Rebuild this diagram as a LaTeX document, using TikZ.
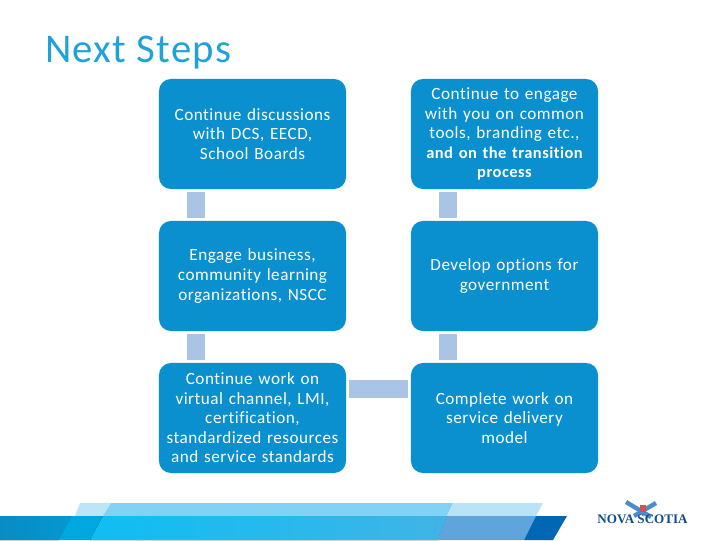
\documentclass[tikz,border=0pt]{standalone}
\usepackage{fontspec}
\setmainfont[LetterSpace=3,Ligatures=NoCommon]{Carlito}
\newfontfamily\logofont{Liberation Serif}
\usetikzlibrary{positioning}
\definecolor{boxblue}{HTML}{0A8FCF}
\definecolor{linkblue}{HTML}{A9C4E4}
\definecolor{titleblue}{HTML}{1FA2DC}
\definecolor{logoblue}{HTML}{0F4C8A}
\definecolor{flagblue}{HTML}{4A8CCC}
\definecolor{flagred}{HTML}{D4504A}
\newcommand{\boldline}[1]{{\fontsize{11.7}{13.9}\selectfont\bfseries #1}}
\tikzset{
	stepbox/.style={fill=boxblue, rounded corners=0.3cm, minimum width=4.675cm, minimum height=2.75cm, align=center, text=white, font=\fontsize{12.2}{13.9}\selectfont, text width=4.6cm, inner sep=0pt},
	linkbar/.style={draw=linkblue, line width=0.45cm},
	flagbar/.style={draw=flagblue, line width=0.11cm}
}
\begin{document}
\begin{tikzpicture}[x=0.025cm, y=-0.025cm]
	\useasboundingbox (0,0) rectangle (720,540);
	\node[anchor=base west, inner sep=0pt, text=titleblue, font=\fontsize{29}{34}\selectfont] (title) at (45,62) {Next Steps};

	% left column
	\node[stepbox] (talks) at (252.5,134) {Continue discussions\\with DCS, EECD,\\School Boards};
	\node[stepbox] (business) at (252.5,276) {Engage business,\\community learning\\organizations, NSCC};
	\node[stepbox] (channel) at (252.5,418) {Continue work on\\virtual channel, LMI,\\certification,\\standardized resources\\and service standards};
	% right column
	\node[stepbox] (tools) at (504.5,134) {Continue to engage\\with you on common\\tools, branding etc.,\\\boldline{and on the transition}\\\boldline{process}};
	\node[stepbox] (options) at (504.5,276) {Develop options for\\government};
	\node[stepbox] (model) at (504.5,418) {Complete work on\\service delivery\\model};

	% links
	\draw[linkbar] ([xshift=0.925cm,yshift=-0.075cm]talks.south west) -- ([xshift=0.925cm,yshift=0.075cm]business.north west);
	\draw[linkbar] ([xshift=0.925cm,yshift=-0.075cm]business.south west) -- ([xshift=0.925cm,yshift=0.075cm]channel.north west);
	\draw[linkbar] ([xshift=0.925cm,yshift=-0.075cm]tools.south west) -- ([xshift=0.925cm,yshift=0.075cm]options.north west);
	\draw[linkbar] ([xshift=0.925cm,yshift=-0.075cm]options.south west) -- ([xshift=0.925cm,yshift=0.075cm]model.north west);
	\draw[linkbar] ([xshift=0.075cm,yshift=-0.65cm]channel.north east) -- ([xshift=-0.075cm,yshift=-0.65cm]model.north west);

	% footer band
	\fill[color={rgb,255:red,190;green,228;blue,248}] (80,503) -- (111,503) -- (103,516) -- (75,516) -- cycle;
	\fill[color={rgb,255:red,130;green,210;blue,246}] (111,503) -- (453,503) -- (447,516) -- (103,516) -- cycle;
	\fill[color={rgb,255:red,187;green,227;blue,248}] (453,503) -- (543,503) -- (536,516) -- (447,516) -- cycle;
	\fill[left color={rgb,255:red,8;green,140;blue,196}, right color={rgb,255:red,6;green,152;blue,208}] (0,516) -- (72,516) -- (59,540) -- (0,540) -- cycle;
	\fill[color={rgb,255:red,0;green,168;blue,224}] (72,516) -- (103,516) -- (90,540) -- (59,540) -- cycle;
	\fill[left color={rgb,255:red,14;green,190;blue,242}, right color={rgb,255:red,64;green,180;blue,230}] (103,516) -- (447,516) -- (438,540) -- (90,540) -- cycle;
	\fill[color={rgb,255:red,95;green,165;blue,220}] (447,516) -- (536,516) -- (524,540) -- (438,540) -- cycle;
	\fill[color={rgb,255:red,0;green,103;blue,180}] (536,516) -- (567,516) -- (553,540) -- (524,540) -- cycle;

	% logo
	\draw[flagbar] (626,502) -- (651,517);
	\draw[flagbar] (656,503) -- (634,516);
	\fill[color=flagred] (640,505) rectangle (646,512);
	\node[anchor=center, inner sep=0pt, text=logoblue, font=\logofont\bfseries\fontsize{9.3}{11}\selectfont] (logo) at (642.5,519.5) {NOVA SCOTIA};
\end{tikzpicture}
\end{document}
